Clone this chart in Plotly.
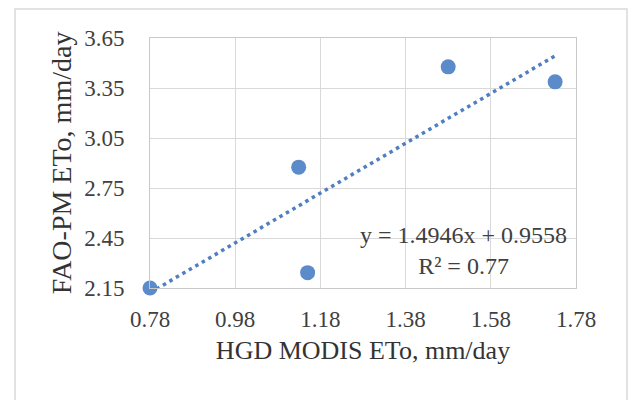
import plotly.graph_objects as go

# Data
hgd_modis = [0.78, 1.129, 1.15, 1.48, 1.731]
fao_pm = [2.15, 2.875, 2.242, 3.477, 3.387]
slope = 1.4946
intercept = 0.9558
r2 = 0.77
x_ticks = [0.78, 0.98, 1.18, 1.38, 1.58, 1.78]
y_ticks = [2.15, 2.45, 2.75, 3.05, 3.35, 3.65]

W, H = 632, 400
L, R, T, B = 150, 56, 38, 112
pw, ph = W - L - R, H - T - B

trend_x = [min(hgd_modis), max(hgd_modis)]
trend_y = [slope * v + intercept for v in trend_x]

blue = "#5B8BC8"
font_family = "Liberation Serif, Times New Roman, serif"

fig = go.Figure()
fig.add_trace(go.Scatter(
    x=trend_x, y=trend_y, mode="lines",
    line=dict(color="#4F7FC0", width=3.5, dash="3.5px,4px"),
    hoverinfo="skip", showlegend=False,
))
fig.add_trace(go.Scatter(
    x=hgd_modis, y=fao_pm, mode="markers",
    marker=dict(color=blue, size=15, line=dict(width=0)),
    cliponaxis=False, showlegend=False,
))

# outer chart border
def px_to_paper_x(p):
    return (p - L) / pw

def px_to_paper_y(p):
    return (H - B - p) / ph

fig.add_shape(type="rect", xref="paper", yref="paper",
              x0=px_to_paper_x(15), x1=px_to_paper_x(627),
              y0=px_to_paper_y(430), y1=px_to_paper_y(9),
              line=dict(color="#d9d9d9", width=1.5), layer="below")

fig.add_annotation(
    x=1.517, y=2.378, xref="x", yref="y",
    text=f"y = {slope:.4f}x + {intercept:.4f}<br>R² = {r2:.2f}",
    showarrow=False, align="center", xanchor="center", yanchor="middle",
    font=dict(family=font_family, size=24, color="#404040"),
)

fig.update_xaxes(
    range=[x_ticks[0], x_ticks[-1]], tickvals=x_ticks,
    ticktext=[f"{v:.2f}" for v in x_ticks],
    showgrid=True, gridcolor="#d9d9d9", gridwidth=1,
    showline=True, linecolor="#c8c8c8", linewidth=1, mirror=True,
    zeroline=False, ticks="", ticklabelstandoff=10,
    tickfont=dict(family=font_family, size=23, color="#404040"),
    title=dict(text="HGD MODIS ETo, mm/day", standoff=10,
               font=dict(family=font_family, size=26, color="#333333")),
)
fig.update_yaxes(
    range=[y_ticks[0], y_ticks[-1]], tickvals=y_ticks,
    ticktext=[f"{v:.2f}" for v in y_ticks],
    showgrid=True, gridcolor="#d9d9d9", gridwidth=1,
    showline=True, linecolor="#c8c8c8", linewidth=1, mirror=True,
    zeroline=False, ticks="", ticklabelstandoff=20,
    tickfont=dict(family=font_family, size=23, color="#404040"),
    title=dict(text="FAO-PM ETo, mm/day", standoff=4,
               font=dict(family=font_family, size=28, color="#333333")),
)

fig.update_layout(
    width=W, height=H,
    margin=dict(l=L, r=R, t=T, b=B, autoexpand=False),
    paper_bgcolor="white", plot_bgcolor="white",
    showlegend=False,
)

fig.write_html("out.html")
